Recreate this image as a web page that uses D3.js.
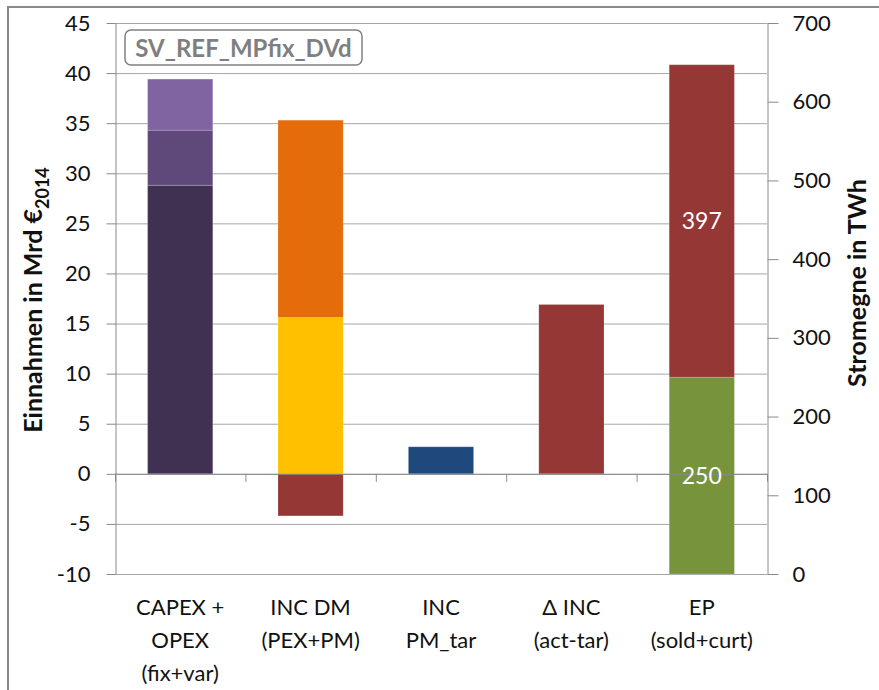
<!DOCTYPE html>
<html><head><meta charset="utf-8">
<script src="https://cdn.jsdelivr.net/npm/d3@7"></script>
<style>body{margin:0;background:#fff}svg{display:block}text{font-family:Lato,"Open Sans",sans-serif}</style>
</head><body>
<svg id="c" width="879" height="690"></svg>
<script>
// ---- data ----
const categories = ["CAPEX + OPEX (fix+var)", "INC DM (PEX+PM)", "INC PM_tar", "Δ INC (act-tar)", "EP (sold+curt)"];
const categoryLines = [["CAPEX +", "OPEX", "(fix+var)"], ["INC DM", "(PEX+PM)"], ["INC", "PM_tar"], ["Δ INC", "(act-tar)"], ["EP", "(sold+curt)"]];
const capexSegments = [28.8, 5.5, 5.1];      // Mrd €
const incDmSegments = [15.6, 19.7];          // positive stack (Mrd €)
const incDmNegative = [-4.2];                // negative part (Mrd €)
const incPmTar = [2.7];
const deltaInc = [16.9];
const epSegments = [250, 397];               // TWh (right axis)
const leftTicks = [-10, -5, 0, 5, 10, 15, 20, 25, 30, 35, 40, 45];
const rightTicks = [0, 100, 200, 300, 400, 500, 600, 700];
const chartTitle = "SV_REF_MPfix_DVd";

// ---- colours ----
const capexColors = ["#403152", "#5F497A", "#8064A2"];
const incDmColors = ["#FFC000", "#E46C0A"];
const negColor = "#953735";
const pmColor = "#1F497D";
const deltaColor = "#953735";
const epColors = ["#77933C", "#953735"];

const svg = d3.select("#c");
const pL = 115, pR = 767, pT = 23, pB = 574;
const x = d3.scaleBand().domain(categories).range([pL, pR]).paddingInner(0.5).paddingOuter(0.25);
const yL = d3.scaleLinear().domain([-10, 45]).range([pB, pT]);
const yR = d3.scaleLinear().domain([0, 700]).range([pB, pT]);

// outer frame
svg.append("rect").attr("x", 8).attr("y", 7).attr("width", 900).attr("height", 720)
  .attr("fill", "none").attr("stroke", "#8a8a8a").attr("stroke-width", 2);

// gridlines
svg.append("g").selectAll("line").data(leftTicks).join("line")
  .attr("x1", pL).attr("x2", pR).attr("y1", d => yL(d) + 0.5).attr("y2", d => yL(d) + 0.5)
  .attr("stroke", "#a6a6a6").attr("stroke-width", 1);

// bars helper
function stack(cat, vals, colors, scale) {
  let acc = 0;
  const rows = vals.map((v, i) => { const r = {y0: acc, y1: acc + v, c: colors[i]}; acc += v; return r; });
  svg.append("g").selectAll("rect").data(rows).join("rect")
    .attr("x", x(cat)).attr("width", x.bandwidth())
    .attr("y", d => scale(Math.max(d.y0, d.y1)))
    .attr("height", d => Math.abs(scale(d.y0) - scale(d.y1)))
    .attr("fill", d => d.c).attr("stroke", "rgba(255,255,255,0.18)").attr("stroke-width", 1);
  return rows;
}
stack(categories[0], capexSegments, capexColors, yL);
stack(categories[1], incDmSegments, incDmColors, yL);
stack(categories[1], incDmNegative, [negColor], yL);
stack(categories[2], incPmTar, [pmColor], yL);
stack(categories[3], deltaInc, [deltaColor], yL);
const epRows = stack(categories[4], epSegments, epColors, yR);

// zero line + category ticks
svg.append("line").attr("x1", pL).attr("x2", pR).attr("y1", yL(0) + 0.5).attr("y2", yL(0) + 0.5)
  .attr("stroke", "#8a8a8a").attr("stroke-width", 1);
const bounds = categories.map(c => x(c) - x.step() * 0.25).concat([pR]);
svg.append("g").selectAll("line").data(bounds).join("line")
  .attr("x1", d => d + 0.5).attr("x2", d => d + 0.5).attr("y1", yL(0)).attr("y2", yL(0) + 8)
  .attr("stroke", "#8a8a8a");

// data labels in EP bar
svg.append("g").selectAll("text").data(epRows).join("text")
  .attr("x", x(categories[4]) + x.bandwidth() / 2).attr("y", d => yR((d.y0 + d.y1) / 2))
  .attr("text-anchor", "middle").attr("dy", "0.36em").attr("fill", "#fff").attr("font-size", 23)
  .text(d => d3.format("d")(d.y1 - d.y0));

const fmt = d => String(d);
// left axis
const gL = svg.append("g").attr("transform", `translate(${pL + 0.5},0)`)
  .call(d3.axisLeft(yL).tickValues(leftTicks).tickFormat(fmt).tickSize(9).tickPadding(16).tickSizeOuter(0));
gL.select(".domain").attr("stroke", "#8a8a8a");
gL.selectAll(".tick line").attr("stroke", "#8a8a8a");
gL.selectAll(".tick text").attr("font-size", 22).attr("fill", "#111").attr("font-family", "Lato,sans-serif");

// right axis
const gR = svg.append("g").attr("transform", `translate(${pR + 0.5},0)`)
  .call(d3.axisRight(yR).tickValues(rightTicks).tickFormat(fmt).tickSize(11).tickPadding(14).tickSizeOuter(0));
gR.select(".domain").attr("stroke", "#8a8a8a");
gR.selectAll(".tick line").attr("stroke", "#8a8a8a");
gR.selectAll(".tick text").attr("font-size", 22).attr("fill", "#111").attr("font-family", "Lato,sans-serif");

// category labels
const cl = svg.append("g").selectAll("text").data(categories).join("text")
  .attr("x", d => x(d) + x.bandwidth() / 2).attr("y", 615)
  .attr("text-anchor", "middle").attr("font-size", 22).attr("fill", "#111");
cl.each(function(d, i) {
  d3.select(this).selectAll("tspan").data(categoryLines[i]).join("tspan")
    .attr("x", x(d) + x.bandwidth() / 2).attr("dy", (t, j) => j === 0 ? 0 : 33).text(t => t);
});

// axis titles
const yt = svg.append("text").attr("transform", "translate(42,300) rotate(-90)")
  .attr("text-anchor", "middle").attr("font-size", 25).attr("font-weight", "bold").attr("fill", "#111");
yt.append("tspan").text("Einnahmen in Mrd €");
yt.append("tspan").attr("font-size", 18).attr("dy", 7).text("2014");
svg.append("text").attr("transform", "translate(866,283) rotate(-90)")
  .attr("text-anchor", "middle").attr("font-size", 25).attr("font-weight", "bold").attr("fill", "#111")
  .text("Stromegne in TWh");

// title box
svg.append("rect").attr("x", 125).attr("y", 30).attr("width", 237).attr("height", 35).attr("rx", 6)
  .attr("fill", "#fff").attr("stroke", "#808080").attr("stroke-width", 1.5);
svg.append("text").attr("x", 243.5).attr("y", 48).attr("dy", "0.36em").attr("text-anchor", "middle")
  .attr("font-size", 24).attr("font-weight", "bold").attr("fill", "#7f7f7f").text(chartTitle);
</script>
</body></html>
